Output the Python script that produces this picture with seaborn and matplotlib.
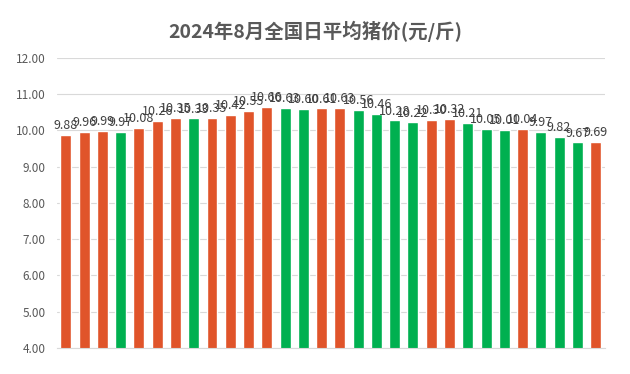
import seaborn as sns
import pandas as pd
import matplotlib.pyplot as plt

days = list(range(1, 31))
prices = [9.88, 9.96, 9.99, 9.97, 10.08, 10.26, 10.35, 10.33, 10.35, 10.42,
          10.55, 10.66, 10.63, 10.60, 10.61, 10.63, 10.56, 10.46, 10.28, 10.22,
          10.30, 10.32, 10.21, 10.05, 10.01, 10.04, 9.97, 9.82, 9.67, 9.69]
trend = ["up", "up", "up", "down", "up", "up", "up", "down", "up", "up",
         "up", "up", "down", "down", "up", "up", "down", "down", "down", "down",
         "up", "up", "down", "down", "down", "up", "down", "down", "down", "up"]

df = pd.DataFrame({"day": days, "price": prices, "trend": trend})

sns.set_style("white")
plt.rcParams["font.family"] = ["Noto Sans CJK SC", "DejaVu Sans"]

fig, ax = plt.subplots(figsize=(6.3, 3.74), dpi=100)
fig.subplots_adjust(left=0.09, right=0.96, top=0.845, bottom=0.07)

sns.barplot(data=df, x="day", y="price", hue="trend",
            palette={"up": "#E0542A", "down": "#00B050"},
            saturation=1, width=0.6, dodge=False, legend=False, ax=ax)

for c in ax.containers:
    ax.bar_label(c, fmt="%.2f", fontsize=9, color="#404040", padding=2)

ax.set_ylim(4, 12)
ax.set_yticks(range(4, 13))
ax.set_yticklabels([f"{v:.2f}" for v in range(4, 13)], fontsize=8.5, color="#595959")
ax.set_xticks([])
ax.set_xlabel("")
ax.set_ylabel("")
ax.grid(axis="y", color="#D9D9D9", linewidth=0.8)
ax.set_axisbelow(True)
for s in ["top", "right", "left"]:
    ax.spines[s].set_visible(False)
ax.spines["bottom"].set_color("#D9D9D9")
ax.tick_params(axis="y", length=0, pad=8)

fig.suptitle("2024年8月全国日平均猪价(元/斤)", fontsize=14, fontweight="bold",
             color="#595959", y=0.945)

plt.savefig("out.png")
plt.close()
